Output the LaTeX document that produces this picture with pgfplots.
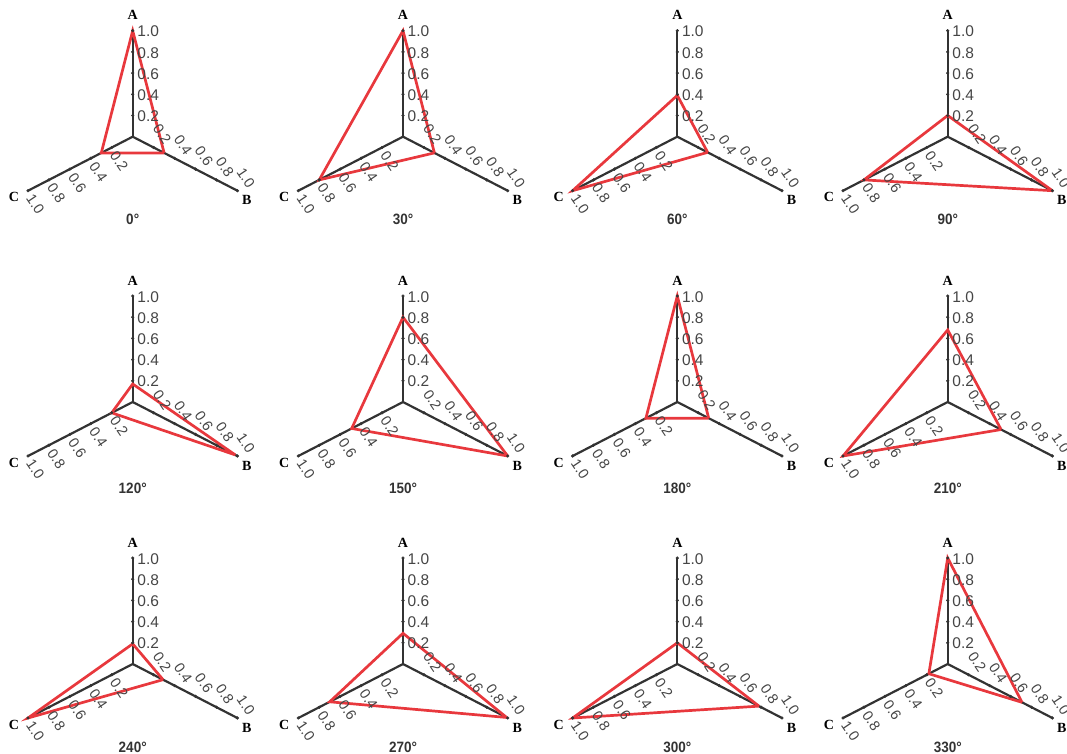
\documentclass[border=0pt]{standalone}
\usepackage{pgfplots}
\pgfplotsset{compat=1.18}
\usepackage{fontspec}
\setmainfont{Liberation Sans}
\newfontfamily\abcfont{Liberation Serif}
\definecolor{axgray}{HTML}{333333}
\definecolor{tkgray}{HTML}{454545}
\definecolor{trired}{HTML}{E8383D}

\pgfplotsset{
  panel/.style={x={(104.7pt,-54pt)}, y={(-104.7pt,-54pt)}, z={(0pt,106pt)},
    hide axis, anchor=origin, xmin=0, xmax=1, ymin=0, ymax=1, zmin=0, zmax=1, clip=false},
  axl/.style={axgray, line width=2.2pt, no marks},
  tk/.style={only marks, mark=*, mark size=1.4pt, axgray, nodes near coords, point meta=explicit symbolic},
  tri/.style={trired, line width=2.7pt, no marks},
}
\tikzset{
  tklab/.style={font=\fontsize{15.5}{15.5}\selectfont, text=tkgray, inner sep=0pt},
  rlab/.style={font=\fontsize{14.5}{14.5}\selectfont, text=tkgray, inner sep=0pt},
  abc/.style={font=\abcfont\bfseries\fontsize{14}{14}\selectfont, text=black, inner sep=0pt},
  ttl/.style={font=\bfseries\fontsize{15}{15}\selectfont, text=axgray, inner sep=0pt, xscale=0.9},
}
\newcommand{\frameABC}{%
  \addplot3[axl] coordinates {(0,0,0) (0,0,1)};
  \addplot3[axl] coordinates {(0,0,0) (1,0,0)};
  \addplot3[axl] coordinates {(0,0,0) (0,1,0)};
  \addplot3[tk, every node near coord/.style={tklab, anchor=west, xshift=4.5pt, yshift=-0.8pt}]
    table[row sep=\\, x=x, y=y, z=z, meta=l]{x y z l\\ 0 0 0.2 0.2\\ 0 0 0.4 0.4\\ 0 0 0.6 0.6\\ 0 0 0.8 0.8\\ 0 0 1 1.0\\};
  \addplot3[tk, every node near coord/.style={rlab, anchor=center, xshift=8.5pt, yshift=13pt, rotate=-56}]
    table[row sep=\\, x=x, y=y, z=z, meta=l]{x y z l\\ 0.2 0 0 0.2\\ 0.4 0 0 0.4\\ 0.6 0 0 0.6\\ 0.8 0 0 0.8\\ 1 0 0 1.0\\};
  \addplot3[tk, every node near coord/.style={rlab, anchor=center, xshift=7.5pt, yshift=-13.5pt, rotate=-56}]
    table[row sep=\\, x=x, y=y, z=z, meta=l]{x y z l\\ 0 0.2 0 0.2\\ 0 0.4 0 0.4\\ 0 0.6 0 0.6\\ 0 0.8 0 0.8\\ 0 1 0 1.0\\};
  \node[abc, yshift=15.5pt] at (axis cs:0,0,1) {A};
  \node[abc, xshift=9.5pt, yshift=-9.5pt] at (axis cs:1,0,0) {B};
  \node[abc, xshift=-14pt, yshift=-6.5pt] at (axis cs:0,1,0) {C};
}

\begin{document}
\begin{tikzpicture}
\useasboundingbox (0pt,0pt) rectangle (1067pt,-754pt);

% ---- row 1 ----
\begin{axis}[panel, at={(132.7pt,-136.7pt)}]
\frameABC
\addplot3[tri] coordinates {(0.3,0,0) (0,0.3,0) (0,0,1.0) (0.3,0,0)};
\node[ttl] at (axis cs:0,0,0) [yshift=-82.3pt] {0°};
\end{axis}

\begin{axis}[panel, at={(403pt,-136.7pt)}]
\frameABC
\addplot3[tri] coordinates {(0.3,0,0) (0,0.8,0) (0,0,1.0) (0.3,0,0)};
\node[ttl] at (axis cs:0,0,0) [yshift=-82.3pt] {30°};
\end{axis}

\begin{axis}[panel, at={(677.3pt,-136.7pt)}]
\frameABC
\addplot3[tri] coordinates {(0.29,0,0) (0,1.0,0) (0,0,0.39) (0.29,0,0)};
\node[ttl] at (axis cs:0,0,0) [yshift=-82.3pt] {60°};
\end{axis}

\begin{axis}[panel, at={(947.7pt,-136.7pt)}]
\frameABC
\addplot3[tri] coordinates {(1.0,0,0) (0,0.8,0) (0,0,0.2) (1.0,0,0)};
\node[ttl] at (axis cs:0,0,0) [yshift=-82.3pt] {90°};
\end{axis}

% ---- row 2 ----
\begin{axis}[panel, at={(132.7pt,-402pt)}]
\frameABC
\addplot3[tri] coordinates {(0.98,0,0) (0,0.2,0) (0,0,0.17) (0.98,0,0)};
\node[ttl] at (axis cs:0,0,0) [yshift=-86.5pt] {120°};
\end{axis}

\begin{axis}[panel, at={(403pt,-402pt)}]
\frameABC
\addplot3[tri] coordinates {(1.0,0,0) (0,0.49,0) (0,0,0.8) (1.0,0,0)};
\node[ttl] at (axis cs:0,0,0) [yshift=-86.5pt] {150°};
\end{axis}

\begin{axis}[panel, at={(677.3pt,-402pt)}]
\frameABC
\addplot3[tri] coordinates {(0.3,0,0) (0,0.3,0) (0,0,1.0) (0.3,0,0)};
\node[ttl] at (axis cs:0,0,0) [yshift=-86.5pt] {180°};
\end{axis}

\begin{axis}[panel, at={(947.7pt,-402pt)}]
\frameABC
\addplot3[tri] coordinates {(0.51,0,0) (0,1.0,0) (0,0,0.68) (0.51,0,0)};
\node[ttl] at (axis cs:0,0,0) [yshift=-86.5pt] {210°};
\end{axis}

% ---- row 3 ----
\begin{axis}[panel, at={(132.7pt,-664pt)}]
\frameABC
\addplot3[tri] coordinates {(0.29,0,0) (0,1.0,0) (0,0,0.19) (0.29,0,0)};
\node[ttl] at (axis cs:0,0,0) [yshift=-83.5pt] {240°};
\end{axis}

\begin{axis}[panel, at={(403pt,-664pt)}]
\frameABC
\addplot3[tri] coordinates {(0.99,0,0) (0,0.7,0) (0,0,0.29) (0.99,0,0)};
\node[ttl] at (axis cs:0,0,0) [yshift=-83.5pt] {270°};
\end{axis}

\begin{axis}[panel, at={(677.3pt,-664pt)}]
\frameABC
\addplot3[tri] coordinates {(0.78,0,0) (0,1.0,0) (0,0,0.2) (0.78,0,0)};
\node[ttl] at (axis cs:0,0,0) [yshift=-83.5pt] {300°};
\end{axis}

\begin{axis}[panel, at={(947.7pt,-664pt)}]
\frameABC
\addplot3[tri] coordinates {(0.71,0,0) (0,0.18,0) (0,0,1.0) (0.71,0,0)};
\node[ttl] at (axis cs:0,0,0) [yshift=-83.5pt] {330°};
\end{axis}

\end{tikzpicture}
\end{document}
